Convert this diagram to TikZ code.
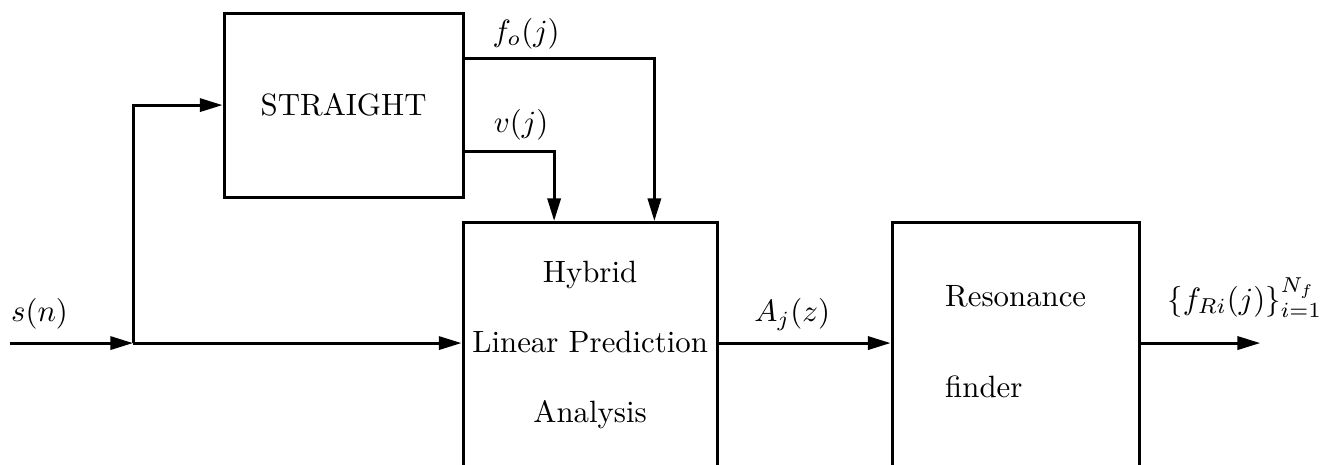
\documentclass[tikz,border=0pt]{standalone}
\usepackage{amsmath,amssymb}
\usepackage{tikz}
\usetikzlibrary{arrows.meta,calc}

\begin{document}
\begin{tikzpicture}[
          every node/.style={font=\normalsize},
          box/.style={draw,line width=1pt,inner sep=0pt},
          lbl/.style={anchor=base,inner sep=0pt},
          arr/.style={-{Triangle[length=2.6mm,width=1.5mm]},line width=1pt},
      ]
        \useasboundingbox (0,0) rectangle (15.07,5.295);
        \clip (0,0) rectangle (15.07,5.295);

        \node[box,minimum width=2.727cm,minimum height=2.1cm] (str) at (3.920,4.096) {STRAIGHT};
        % lower boxes run past the bottom edge
        \node[box,anchor=north,minimum width=2.898cm,minimum height=2.973cm,
              text depth=7.3pt,align=center] (hyb) at (6.732,2.773)
          {Hybrid\\[10.7pt]Linear Prediction\\[10.7pt]Analysis};
        \node[box,anchor=north,minimum width=2.818cm,minimum height=2.973cm,
              text depth=7.7pt,align=left] (res) at (11.587,2.773)
          {Resonance\\[17.5pt]finder};

        \coordinate (in) at (0.114,1.381);
        \coordinate (split) at (1.518,1.381);
        \coordinate (out) at (14.377,1.381);

        \draw[arr] (in) -- (split);
        \draw[arr] (split) -- (split -| hyb.west);
        \draw[arr] (split) |- (str.west);
        \draw[arr] ($(str.north east)!0.25!(str.south east)$) -| ($(hyb.north west)!0.75!(hyb.north east)$);
        \draw[arr] ($(str.north east)!0.75!(str.south east)$) -| ($(hyb.north west)!0.36!(hyb.north east)$);
        \draw[arr] (split -| hyb.east) -- (split -| res.west);
        \draw[arr] (out -| res.east) -- (out);

        \node[lbl] (sn) at (0.451,1.624) {$s(n)$};
        \node[lbl] (fo) at (6.002,4.826) {$f_o(j)$};
        \node[lbl] (vj) at (5.944,3.780) {$v(j)$};
        \node[lbl] (az) at (9.037,1.624) {$A_j(z)$};
        \node[lbl] (fr) at (14.200,1.769) {$\{f_{Ri}(j)\}_{i=1}^{N_f}$};
      \end{tikzpicture}
\end{document}
